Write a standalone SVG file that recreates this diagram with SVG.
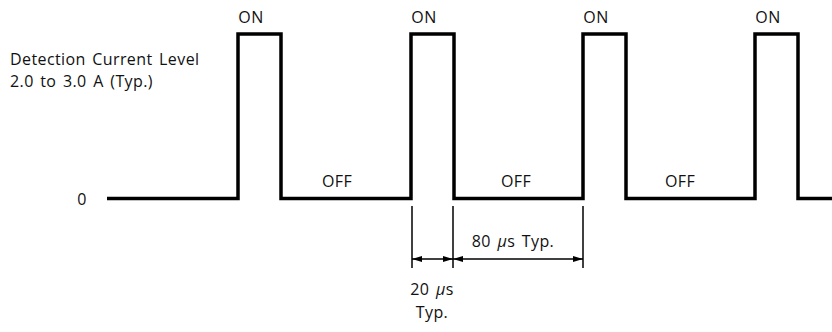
<svg xmlns="http://www.w3.org/2000/svg" width="832" height="332" viewBox="0 0 832 332">
<defs>
<marker id="arr" viewBox="0 0 10 6" refX="10" refY="3" markerWidth="10" markerHeight="6" markerUnits="userSpaceOnUse" orient="auto">
<path d="M0,0 L10,3 L0,6 Z" fill="#000"/>
</marker>
</defs>
<style>
text{font-family:"Open Sans","Noto Sans","DejaVu Sans",sans-serif;font-size:16px;fill:#111;letter-spacing:0.4px;word-spacing:2px}
.c{text-anchor:middle}
.wave{fill:none;stroke:#000;stroke-width:3.5;stroke-linejoin:miter}
.thin{fill:none;stroke:#000;stroke-width:1.5}
.mu{font-style:italic}
</style>
<rect width="832" height="332" fill="#fff"/>
<g id="labels">
<text x="10" y="65">Detection Current Level</text>
<text x="10" y="87">2.0 to 3.0 A (Typ.)</text>
<text x="82" y="205" class="c">0</text>
<text x="251" y="23" class="c">ON</text>
<text x="424" y="23" class="c">ON</text>
<text x="596" y="23" class="c">ON</text>
<text x="768" y="23" class="c">ON</text>
<text x="337" y="187" class="c">OFF</text>
<text x="516" y="187" class="c">OFF</text>
<text x="680" y="187" class="c">OFF</text>
</g>
<g id="waveform">
<path class="wave" d="M107,198.5 H238 V34 H281 V198.5 H411 V34 H454 V198.5 H583 V34 H626 V198.5 H755 V34 H798 V198.5 H832"/>
</g>
<g id="connectors">
<line class="thin" x1="412" y1="206" x2="412" y2="268"/>
<line class="thin" x1="453" y1="206" x2="453" y2="268"/>
<line class="thin" x1="583" y1="206" x2="583" y2="268"/>
<line class="thin" x1="432" y1="259" x2="412" y2="259" marker-end="url(#arr)"/>
<line class="thin" x1="432" y1="259" x2="453" y2="259" marker-end="url(#arr)"/>
<line class="thin" x1="518" y1="259" x2="453" y2="259" marker-end="url(#arr)"/>
<line class="thin" x1="518" y1="259" x2="583" y2="259" marker-end="url(#arr)"/>
</g>
<g id="dimension-labels">
<text x="513" y="247" class="c">80 <tspan class="mu">μ</tspan>s Typ.</text>
<text x="432" y="295" class="c">20 <tspan class="mu">μ</tspan>s</text>
<text x="432" y="318" class="c">Typ.</text>
</g>
</svg>
